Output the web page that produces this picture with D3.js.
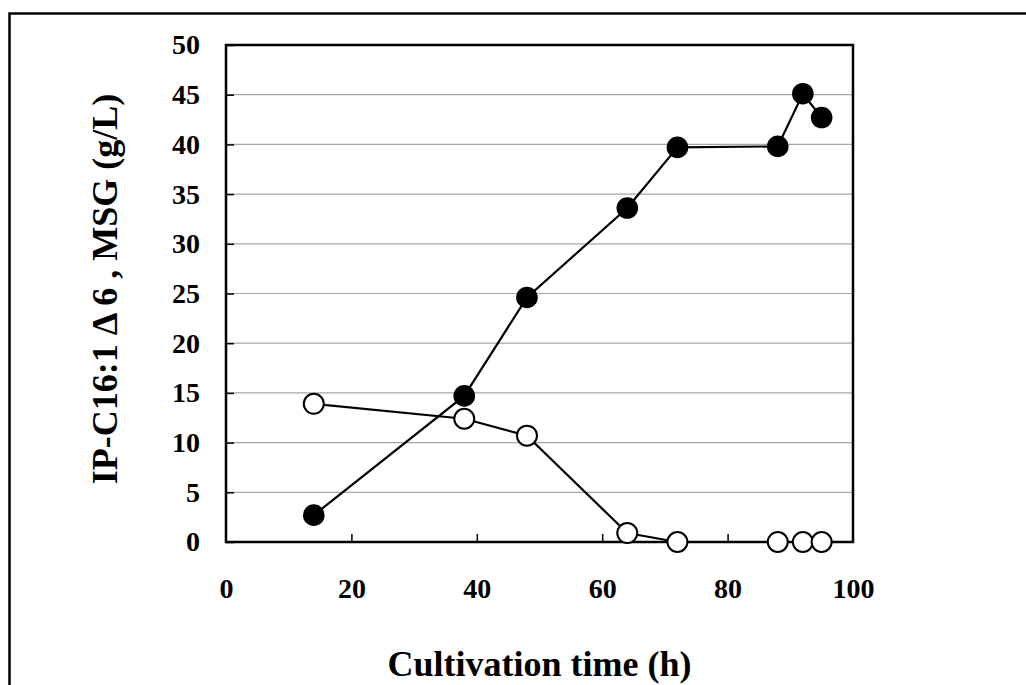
<!DOCTYPE html>
<html>
<head>
<meta charset="utf-8">
<script src="https://cdn.jsdelivr.net/npm/d3@7"></script>
<style>
  html, body { margin: 0; padding: 0; background: #fff; }
  svg { display: block; }
  text { font-family: "Liberation Serif", "Times New Roman", serif; font-weight: bold; fill: #000; }
</style>
</head>
<body>
<svg id="chart" width="1026" height="685"></svg>
<script>
// ---- data ----
const timeMSG   = [14, 38, 48, 64, 72, 88, 92, 95];
const valuesMSG = [2.7, 14.7, 24.6, 33.6, 39.7, 39.8, 45.1, 42.7];   // filled circles
const timeSub   = [14, 38, 48, 64, 72, 88, 92, 95];
const valuesSub = [13.9, 12.4, 10.7, 0.9, 0, 0, 0, 0];               // open circles
const xTicks = [0, 20, 40, 60, 80, 100];
const yTicks = [0, 5, 10, 15, 20, 25, 30, 35, 40, 45, 50];
const xTitle = "Cultivation time (h)";
const yTitle = "IP-C16:1 Δ 6 , MSG (g/L)";

(function () {
const svg = d3.select("#chart");
const pL = 226, pR = 853, pT = 45, pB = 542;

const x = d3.scaleLinear().domain([0, 100]).range([pL, pR]);
const y = d3.scaleLinear().domain([0, 50]).range([pB, pT]);

// outer frame
svg.append("rect")
  .attr("x", 9.5).attr("y", 13.5).attr("width", 1040).attr("height", 700)
  .attr("fill", "none").attr("stroke", "#000").attr("stroke-width", 2.5);

// gridlines
svg.append("g").selectAll("line")
  .data(yTicks.filter(d => d > 0 && d < 50))
  .join("line")
  .attr("x1", pL).attr("x2", pR)
  .attr("y1", d => y(d)).attr("y2", d => y(d))
  .attr("stroke", "#a6a6a6").attr("stroke-width", 1.2);

// plot box
svg.append("rect")
  .attr("x", pL).attr("y", pT).attr("width", pR - pL).attr("height", pB - pT)
  .attr("fill", "none").attr("stroke", "#000").attr("stroke-width", 2.5);

// y axis ticks (inward) + labels
const yAxis = d3.axisLeft(y).tickValues(yTicks).tickSizeInner(-8).tickSizeOuter(0).tickPadding(26);
const gy = svg.append("g").attr("transform", `translate(${pL},0)`).call(yAxis);
gy.select(".domain").remove();
gy.selectAll(".tick line").attr("stroke", "#000").attr("stroke-width", 1.5);
gy.selectAll(".tick text")
  .attr("x", -26)
  .style("font-size", "28px").style("font-family", "'Liberation Serif', serif").style("font-weight", "bold");

// x axis ticks (inward) + labels
const xAxis = d3.axisBottom(x).tickValues(xTicks).tickSizeInner(-8).tickSizeOuter(0).tickPadding(0);
const gx = svg.append("g").attr("transform", `translate(0,${pB})`).call(xAxis);
gx.select(".domain").remove();
gx.selectAll(".tick line").attr("stroke", "#000").attr("stroke-width", 1.5)
  .filter(d => d === 0 || d === 100).remove();
gx.selectAll(".tick text")
  .attr("y", 56).attr("dy", 0)
  .style("font-size", "28px").style("font-family", "'Liberation Serif', serif").style("font-weight", "bold");

// lines
const line = d3.line().x(d => x(d[0])).y(d => y(d[1]));
const msg = timeMSG.map((t, i) => [t, valuesMSG[i]]);
const sub = timeSub.map((t, i) => [t, valuesSub[i]]);

svg.append("path").datum(msg).attr("d", line)
  .attr("fill", "none").attr("stroke", "#000").attr("stroke-width", 2.2);
svg.append("path").datum(sub).attr("d", line)
  .attr("fill", "none").attr("stroke", "#000").attr("stroke-width", 2.2);

// markers
svg.append("g").selectAll("circle").data(msg).join("circle")
  .attr("cx", d => x(d[0])).attr("cy", d => y(d[1])).attr("r", 10.8)
  .attr("fill", "#000");
svg.append("g").selectAll("circle").data(sub).join("circle")
  .attr("cx", d => x(d[0])).attr("cy", d => y(d[1])).attr("r", 10)
  .attr("fill", "#fff").attr("stroke", "#000").attr("stroke-width", 2);

// titles
svg.append("text")
  .attr("x", (pL + pR) / 2).attr("y", 676)
  .attr("text-anchor", "middle")
  .style("font-size", "36px")
  .text(xTitle);

svg.append("text")
  .attr("transform", `translate(117,289) rotate(-90)`)
  .attr("text-anchor", "middle")
  .style("font-size", "36px")
  .text(yTitle);
})();
</script>
</body>
</html>
